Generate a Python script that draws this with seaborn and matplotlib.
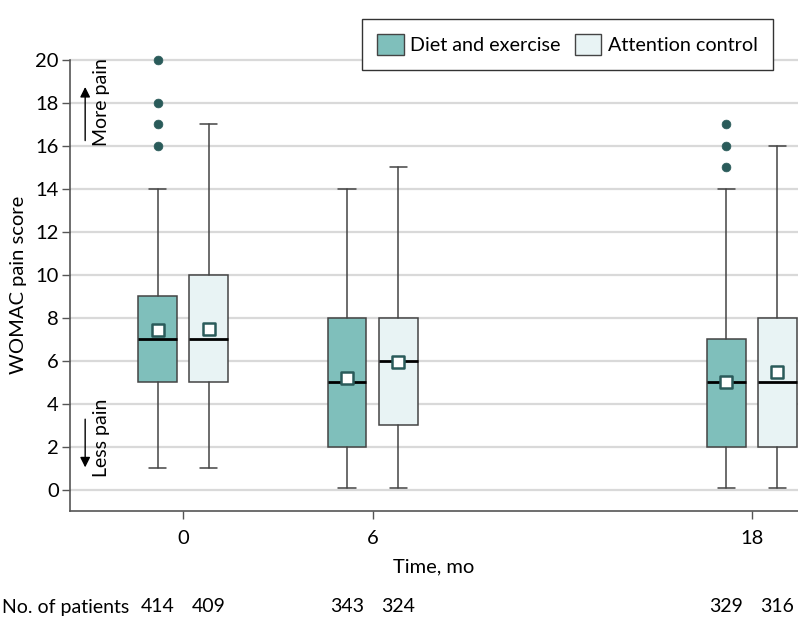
import numpy as np
import matplotlib
matplotlib.use("Agg")
import matplotlib.pyplot as plt
from matplotlib.patches import Patch
import seaborn as sns

# data
times = [0, 6, 18]
groups = ["Diet and exercise", "Attention control"]
n_patients = {"Diet and exercise": [414, 343, 329], "Attention control": [409, 324, 316]}

diet_whislo = [1, 0.05, 0.05]
diet_q1 = [5, 2, 2]
diet_med = [7, 5, 5]
diet_q3 = [9, 8, 7]
diet_whishi = [14, 14, 14]
diet_mean = [7.44, 5.18, 5.02]
diet_fliers = [[16, 17, 18, 20], [], [15, 16, 17]]

ctrl_whislo = [1, 0.05, 0.05]
ctrl_q1 = [5, 3, 2]
ctrl_med = [7, 6, 5]
ctrl_q3 = [10, 8, 8]
ctrl_whishi = [17, 15, 16]
ctrl_mean = [7.47, 5.93, 5.46]
ctrl_fliers = [[], [], []]

y_ticks = list(range(0, 21, 2))

# styling
diet_color = "#7fbfbb"
ctrl_color = "#e8f3f4"
edge_color = "#444444"
dot_color = "#2a5b5a"
offset = 0.81
box_w = 1.22

sns.set_theme(style="white")
plt.rcParams["font.family"] = ["Lato", "DejaVu Sans"]
plt.rcParams["font.size"] = 14
for k in ["text.color", "axes.labelcolor", "xtick.color", "ytick.color"]:
    plt.rcParams[k] = "black"

fig = plt.figure(figsize=(7.98, 6.36), dpi=100)
ax = fig.add_axes([70 / 798, 125 / 636, 728 / 798, 453 / 636])


def make_stats(whislo, q1, med, q3, whishi, mean):
    stats = []
    for i in range(len(times)):
        stats.append(dict(whislo=whislo[i], q1=q1[i], med=med[i], q3=q3[i],
                          whishi=whishi[i], mean=mean[i], fliers=[]))
    return stats


diet_stats = make_stats(diet_whislo, diet_q1, diet_med, diet_q3, diet_whishi, diet_mean)
ctrl_stats = make_stats(ctrl_whislo, ctrl_q1, ctrl_med, ctrl_q3, ctrl_whishi, ctrl_mean)

diet_pos = [t - offset for t in times]
ctrl_pos = [t + offset for t in times]

for stats, pos, color in [(diet_stats, diet_pos, diet_color), (ctrl_stats, ctrl_pos, ctrl_color)]:
    ax.bxp(stats, positions=pos, widths=box_w, patch_artist=True, showfliers=False,
           boxprops=dict(facecolor=color, edgecolor=edge_color, linewidth=1.1),
           medianprops=dict(color="black", linewidth=2),
           whiskerprops=dict(color=edge_color, linewidth=1.1),
           capprops=dict(color=edge_color, linewidth=1.1),
           capwidths=box_w * 0.45, manage_ticks=False, zorder=3)

# mean markers
sns.scatterplot(x=diet_pos + ctrl_pos, y=diet_mean + ctrl_mean, marker="s", s=85,
                color="white", edgecolor=dot_color, linewidth=1.8, zorder=5, ax=ax, legend=False)

# outliers
fx, fy = [], []
for pos, fl in zip(diet_pos, diet_fliers):
    fx += [pos] * len(fl)
    fy += fl
for pos, fl in zip(ctrl_pos, ctrl_fliers):
    fx += [pos] * len(fl)
    fy += fl
sns.scatterplot(x=fx, y=fy, s=40, color=dot_color, edgecolor=dot_color, zorder=5,
                ax=ax, legend=False)
for c in ax.collections:
    c.set_clip_on(False)

ax.set_xlim(-3.58, 19.46)
ax.set_ylim(-1, 20.07)
ax.set_xticks(times)
ax.set_yticks(y_ticks)
ax.yaxis.grid(True, color="#d9d9d9", linewidth=1.6, zorder=0)
ax.set_axisbelow(True)
for s in ["top", "right"]:
    ax.spines[s].set_visible(False)
for s in ["left", "bottom"]:
    ax.spines[s].set_color("#555555")
    ax.spines[s].set_linewidth(1.2)
ax.spines["left"].set_bounds(-1, 20)
ax.tick_params(axis="both", which="both", length=6, width=1, color="#555555",
               labelsize=14.5, left=True, bottom=True, pad=2)
ax.tick_params(axis="x", pad=8)
ax.set_xlabel("Time, mo", fontsize=14.5, labelpad=8)
ax.set_ylabel("WOMAC pain score", fontsize=14.5, labelpad=6)

# direction annotations
ax.annotate("", xy=(-3.1, 18.85), xytext=(-3.1, 16.1),
            arrowprops=dict(arrowstyle="-|>", color="black", lw=1, mutation_scale=15))
ax.text(-2.58, 16.0, "More pain", rotation=90, ha="center", va="bottom", fontsize=14)
ax.annotate("", xy=(-3.1, 0.9), xytext=(-3.1, 3.4),
            arrowprops=dict(arrowstyle="-|>", color="black", lw=1, mutation_scale=15))
ax.text(-2.58, 0.6, "Less pain", rotation=90, ha="center", va="bottom", fontsize=14)

# patient numbers row
trans = matplotlib.transforms.blended_transform_factory(ax.transData, fig.transFigure)
fig.text(2 / 798, 1 - 607 / 636, "No. of patients", ha="left", va="center", fontsize=14)
for pos, n in zip(diet_pos, n_patients["Diet and exercise"]):
    ax.text(pos, 1 - 607 / 636, str(n), transform=trans, ha="center", va="center", fontsize=14)
for pos, n in zip(ctrl_pos, n_patients["Attention control"]):
    ax.text(pos, 1 - 607 / 636, str(n), transform=trans, ha="center", va="center", fontsize=14)

handles = [Patch(facecolor=diet_color, edgecolor=edge_color, label=groups[0]),
           Patch(facecolor=ctrl_color, edgecolor=edge_color, label=groups[1])]
fig.legend(handles=handles, loc="upper right", bbox_to_anchor=(773 / 798, 1 - 19 / 636),
           ncol=2, frameon=True, fancybox=False, edgecolor="#333333", fontsize=14.2,
           handlelength=1.35, handleheight=1.3, columnspacing=0.7, handletextpad=0.35,
           borderpad=0.75, borderaxespad=0, framealpha=1)

fig.savefig("out.png", dpi=100)
